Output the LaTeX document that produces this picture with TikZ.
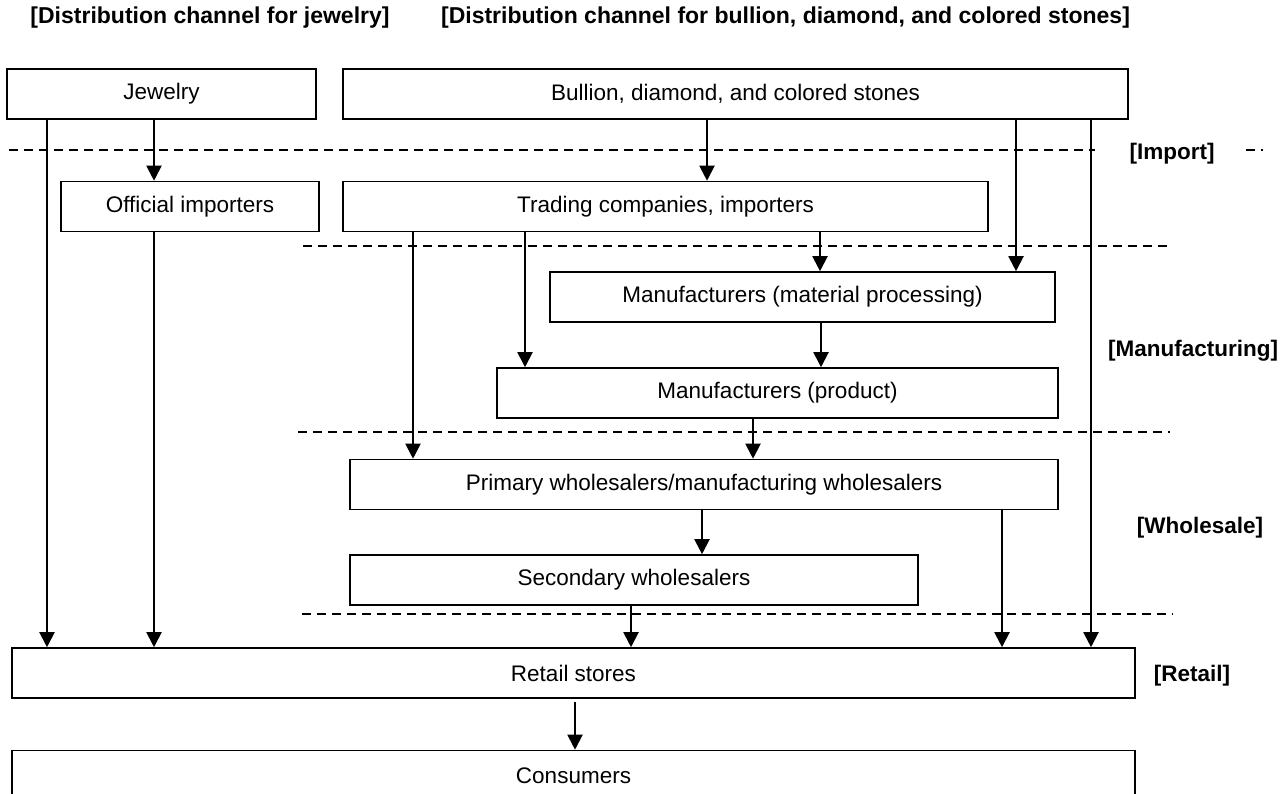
\documentclass[tikz,border=0pt]{standalone}
\usepackage{fontspec}
\setmainfont{Liberation Sans}
\usetikzlibrary{arrows.meta,positioning,calc}

\begin{document}
\begin{tikzpicture}[
        x=0.5pt, y=-0.5pt,
        every node/.style={font=\fontsize{11.25}{13.5}\selectfont},
        box/.style={rectangle, draw, line width=0.8pt, fill=white, minimum height=25pt, inner sep=0pt},
        flow/.style={-{Triangle[length=7.5pt, width=7.5pt]}, line width=1pt},
        sep/.style={dash pattern=on 4.5pt off 3pt, line width=0.7pt},
        stage/.style={font=\fontsize{11.25}{13.5}\selectfont\bfseries},
        heading/.style={font=\fontsize{11.5}{13.5}\selectfont\bfseries}
    ]
        \useasboundingbox (0,0) rectangle (1288,793);

        % headings
        \node[heading] (headjw) at (210,18) {[Distribution channel for jewelry]};
        \node[heading] (headbd) at (785.5,18) {[Distribution channel for bullion, diamond, and colored stones]};

        % stage separators and labels
        \draw[sep] (9,150) -- (1095,150);
        \draw[sep] (1246,150) -- (1263,150);
        \draw[sep] (303,246) -- (1173,246);
        \draw[sep] (298,432) -- (1170,432);
        \draw[sep] (302,614) -- (1173,614);
        \node[stage] (import) at (1172,154) {[Import]};
        \node[stage] (manuf) at (1193,351) {[Manufacturing]};
        \node[stage] (whole) at (1200,528) {[Wholesale]};
        \node[stage] (retail) at (1192,676) {[Retail]};

        % boxes
        \node[box, minimum width=154.5pt] (jewelry) at (161.5,94) {Jewelry};
        \node[box, minimum width=392.5pt] (bullion) at (735.5,94) {Bullion, diamond, and colored stones};
        \node[box, minimum width=129pt] (official) at (190,206.5) {Official importers};
        \node[box, minimum width=322.5pt] (trading) at (665.5,206.5) {Trading companies, importers};
        \node[box, minimum width=252.5pt] (matproc) at (802.5,297) {Manufacturers (material processing)};
        \node[box, minimum width=280.5pt] (product) at (777.5,393) {Manufacturers (product)};
        \node[box, minimum width=354pt] (primary) at (704,484.5) {Primary wholesalers/manufacturing wholesalers};
        \node[box, minimum width=284pt] (secondary) at (634,580) {Secondary wholesalers};
        \node[box, minimum width=561.5pt] (stores) at (573.5,673) {Retail stores};
        \node[box, minimum width=561.5pt] (consumers) at (573.5,775.5) {Consumers};

        % flows
        \draw[flow] (jewelry.south -| 47,0) -- (stores.north -| 47,0);
        \draw[flow] (jewelry.south -| 154,0) -- (official.north -| 154,0);
        \draw[flow] (official.south -| 154,0) -- (stores.north -| 154,0);
        \draw[flow] (bullion.south -| 707,0) -- (trading.north -| 707,0);
        \draw[flow] (bullion.south -| 1016,0) -- (matproc.north -| 1016,0);
        \draw[flow] (bullion.south -| 1091,0) -- (stores.north -| 1091,0);
        \draw[flow] (trading.south -| 413,0) -- (primary.north -| 413,0);
        \draw[flow] (trading.south -| 525,0) -- (product.north -| 525,0);
        \draw[flow] (trading.south -| 820,0) -- (matproc.north -| 820,0);
        \draw[flow] (matproc.south -| 821,0) -- (product.north -| 821,0);
        \draw[flow] (product.south -| 753,0) -- (primary.north -| 753,0);
        \draw[flow] (primary.south -| 702,0) -- (secondary.north -| 702,0);
        \draw[flow] (primary.south -| 1002,0) -- (stores.north -| 1002,0);
        \draw[flow] (secondary.south -| 631,0) -- (stores.north -| 631,0);
        \draw[flow] ([yshift=-1.5pt]stores.south -| 575,0) -- (consumers.north -| 575,0);
    \end{tikzpicture}
\end{document}
